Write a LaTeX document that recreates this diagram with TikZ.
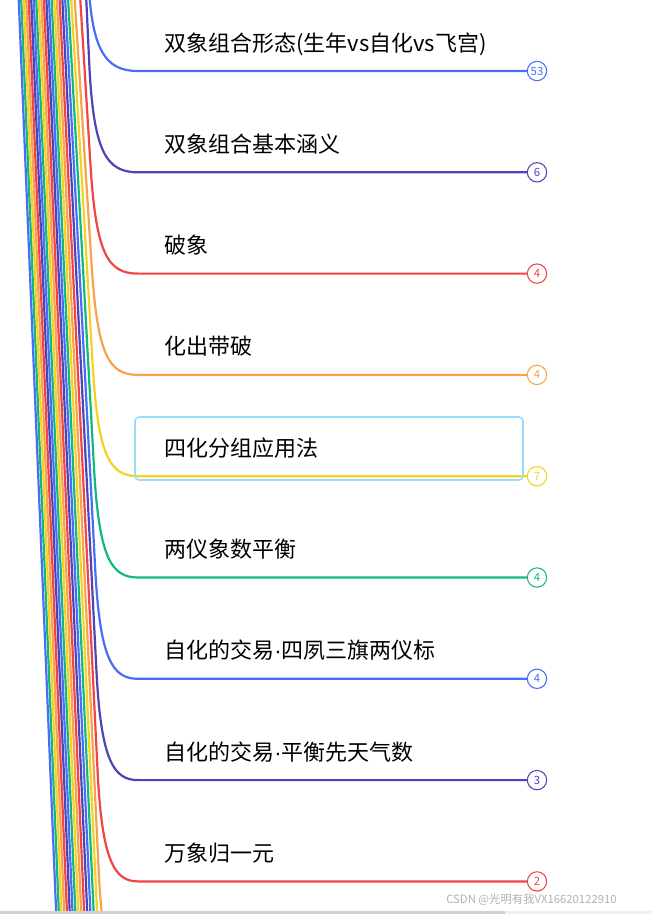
\documentclass[tikz,border=0pt]{standalone}
\usepackage{fontspec}
\setmainfont{Noto Sans CJK SC}
\newfontfamily\latinf{Liberation Sans}
\begin{document}
\begin{tikzpicture}[x=0.75pt,y=-0.75pt,
  br/.style={line width=1.65pt},
  lbl/.style={anchor=base west,font=\fontsize{16.5}{19}\selectfont,text=black,inner sep=0},
  cnt/.style={circle,draw,fill=white,minimum size=14.5pt,inner sep=0,line width=0.8pt,font=\fontsize{8.5}{10}\selectfont}]
\definecolor{c0}{HTML}{4A6CF7}\definecolor{c1}{HTML}{4B45B8}\definecolor{c2}{HTML}{F24444}
\definecolor{c3}{HTML}{F7A24E}\definecolor{c4}{HTML}{F5D21F}\definecolor{c5}{HTML}{12B97A}
\useasboundingbox (0,0) rectangle (652,914);
\fill[white] (0,0) rectangle (652,914);
\begin{scope}
\clip (0,0) rectangle (652,911);
\foreach \k in {24,23,...,0}{
  \pgfmathtruncatemacro{\ci}{mod(\k,6)}
  \pgfmathsetmacro{\yk}{71+101.3*\k}
  \pgfmathsetmacro{\tk}{\k<3 ? 86-9*\k : 62-2.45*(\k-3)}
  \pgfmathsetmacro{\xb}{88+1.2*\k}
  \pgfmathsetmacro{\cx}{\xb+(\xb-\tk)*90/(\yk+90)}
  \draw[br,color=c\ci] (\tk,-200) -- (\xb,\yk-110) .. controls (\cx,\yk-20) and (\xb+17,\yk) .. (138,\yk) -- (527,\yk);
}
\end{scope}
\node[draw=cyan!40,line width=1.2pt,rounded corners=3pt,minimum width=388*0.75pt,minimum height=63*0.75pt] (hl) at (329,448.5) {};
\foreach \k/\t/\n in {0/{双象组合形态(生年vs自化vs飞宫)}/53,1/双象组合基本涵义/6,2/破象/4,3/化出带破/4,4/四化分组应用法/7,5/两仪象数平衡/4,6/{自化的交易{\latinf ·}四夙三旗两仪标}/4,7/{自化的交易{\latinf ·}平衡先天气数}/3,8/万象归一元/2}{
  \pgfmathtruncatemacro{\ci}{mod(\k,6)}
  \pgfmathsetmacro{\yk}{71+101.3*\k}
  \node[lbl] (t\k) at (164,\yk-20) {\t};
  \node[cnt,draw=c\ci,text=c\ci] (n\k) at (537,\yk) {\n};
}
\fill[black!18] (0,911) rectangle (505,914);
\fill[black!6] (505,911) rectangle (652,914);
\node[anchor=base west,inner sep=0,text=black!30,font=\fontsize{8.5}{10}\selectfont] (wm) at (446,903) {CSDN @光明有我VX16620122910};
\end{tikzpicture}
\end{document}
